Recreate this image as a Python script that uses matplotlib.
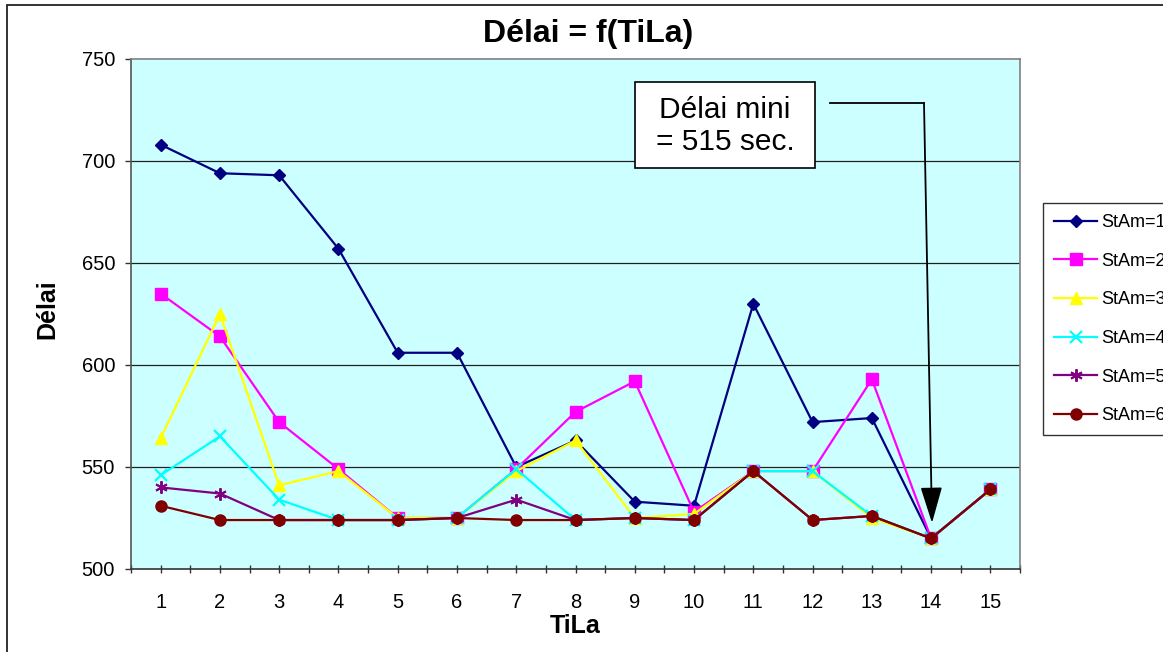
import matplotlib
matplotlib.use("Agg")
import matplotlib.pyplot as plt
from matplotlib.patches import Rectangle
from matplotlib.lines import Line2D

plt.rcParams['font.family'] = ['Liberation Sans', 'DejaVu Sans']

tila = list(range(1, 16))
stam1 = [708, 694, 693, 657, 606, 606, 550, 563, 533, 531, 630, 572, 574, 515, 539]
stam2 = [635, 614, 572, 549, 525, 525, 549, 577, 592, 528, 548, 548, 593, 515, 539]
stam3 = [564, 625, 541, 548, 525, 525, 548, 563, 525, 527, 548, 548, 525, 515, 539]
stam4 = [546, 565, 534, 524, 524, 525, 549, 524, 525, 524, 548, 548, 526, 515, 539]
stam5 = [540, 537, 524, 524, 524, 525, 534, 524, 525, 524, 548, 524, 526, 515, 539]
stam6 = [531, 524, 524, 524, 524, 525, 524, 524, 525, 524, 548, 524, 526, 515, 539]
series_names = ["StAm=1", "StAm=2", "StAm=3", "StAm=4", "StAm=5", "StAm=6"]
yticks = [500, 550, 600, 650, 700, 750]

W, H = 1163, 652
fig = plt.figure(figsize=(W / 100, H / 100), dpi=100)

# outer chart border
fig.patches.append(Rectangle((7 / W, -0.1), 1.2, 1 - 5 / H + 0.1, transform=fig.transFigure,
                             fill=False, edgecolor='#222222', linewidth=1.3))

L, R, T, B = 131, 1020, 59, 569
ax = fig.add_axes([L / W, 1 - B / H, (R - L) / W, (B - T) / H])
ax.set_facecolor('#CCFFFF')

styles = [
    dict(color='#000080', marker='D', markersize=6.5, markerfacecolor='#000080'),
    dict(color='#FF00FF', marker='s', markersize=8, markerfacecolor='#FF00FF'),
    dict(color='#FFFF00', marker='^', markersize=9, markerfacecolor='#FFFF00'),
    dict(color='#00FFFF', marker='x', markersize=8, markeredgewidth=1.6),
    dict(color='#800080', marker=(6, 2, 0), markersize=9, markeredgewidth=1.4),
    dict(color='#800000', marker='o', markersize=8, markerfacecolor='#800000'),
]
data = [stam1, stam2, stam3, stam4, stam5, stam6]
for i, (vals, st, name) in enumerate(zip(data, styles, series_names)):
    ax.plot(tila, vals, linewidth=1.6, label=name, zorder=3 + i, clip_on=False, **st)

ax.set_xlim(0.5, 15.5)
ax.set_ylim(500, 750)
ax.set_yticks(yticks)
ax.set_xticks(tila)
ax.set_xticks([x + 0.5 for x in range(0, 16)], minor=True)
ax.tick_params(axis='x', which='minor', direction='inout', length=6, width=1, color='#333333')
ax.tick_params(axis='x', which='major', direction='inout', length=6, width=1, color='#333333',
               pad=14, labelsize=14.5)
ax.tick_params(axis='y', direction='out', length=4.5, width=1, pad=7, labelsize=14.5, color='#333333')

for y in yticks[1:-1]:
    ax.axhline(y, color='#202020', linewidth=0.9, zorder=1)
for s in ax.spines.values():
    s.set_color('#808080')
    s.set_linewidth(1.2)
ax.spines['bottom'].set_color('#333333')
ax.spines['left'].set_color('#555555')


def afx(px):
    return (px - L) / (R - L)


def afy(py):
    return 1 - (py - T) / (B - T)


ax.set_xlabel('TiLa', fontsize=18, fontweight='bold', labelpad=2)
ax.set_ylabel('Délai', fontsize=18, fontweight='bold')
ax.yaxis.set_label_coords(afx(59), afy(309))
fig.text(588 / W, 1 - 34 / H, 'Délai = f(TiLa)', fontsize=23, fontweight='bold',
         ha='center', va='center')

# annotation box
bx0, bx1, by0, by1 = 635, 815, 82, 168
ax.add_patch(Rectangle((afx(bx0), afy(by1)),
                       (bx1 - bx0) / (R - L), (by1 - by0) / (B - T),
                       transform=ax.transAxes, facecolor='white', edgecolor='black',
                       linewidth=1.2, zorder=10))
ax.text(afx((bx0 + bx1) / 2), afy((by0 + by1) / 2 + 1),
        'Délai mini\n= 515 sec.', transform=ax.transAxes, ha='center', va='center',
        fontsize=21.5, linespacing=1.2, zorder=11)

ax.add_line(Line2D([afx(830), afx(924)], [afy(103), afy(103)], transform=ax.transAxes,
                   color='black', linewidth=1.3, zorder=12))
ax.annotate('', xy=(afx(932), afy(523)), xytext=(afx(924), afy(103)),
            xycoords='axes fraction', textcoords='axes fraction',
            arrowprops=dict(arrowstyle='-|>,head_length=1.5,head_width=0.45',
                            color='black', linewidth=1.3, shrinkA=0, shrinkB=0,
                            mutation_scale=15), zorder=12)

leg = fig.legend(loc='upper left', bbox_to_anchor=(1043 / W, 1 - 203 / H),
                 fontsize=13, frameon=True, fancybox=False, edgecolor='black',
                 handlelength=2.4, handletextpad=0.2, labelspacing=1.2,
                 borderpad=0.6, borderaxespad=0)
leg.get_frame().set_linewidth(1.0)

fig.savefig('out.png', dpi=100)
